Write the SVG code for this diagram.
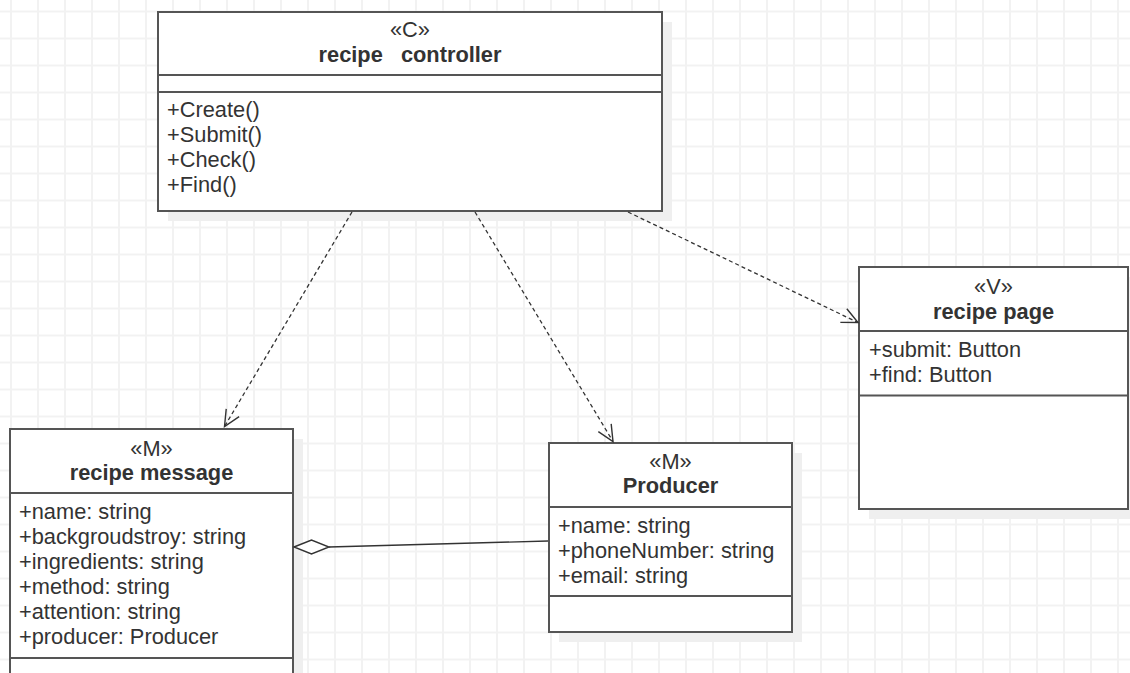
<svg xmlns="http://www.w3.org/2000/svg" width="1130" height="673" viewBox="0 0 1130 673">
<defs>
<pattern id="grid" x="10" y="10.5" width="27" height="27" patternUnits="userSpaceOnUse">
<path d="M1,0 V27 M0,1 H27" stroke="#f2f2f2" stroke-width="2" fill="none"/>
</pattern>
<marker id="open" markerUnits="userSpaceOnUse" markerWidth="20" markerHeight="20" viewBox="-18 -10 20 20" refX="0" refY="0" orient="auto">
<path d="M-16,-7.5 L0,0 L-16,7.5" fill="none" stroke="#333" stroke-width="1.4"/>
</marker>
</defs>
<style>
.box{fill:#fff;stroke:#555;stroke-width:2}
.shadow{fill:#efefef}
.div{stroke:#555;stroke-width:2}
text{font-family:"Liberation Sans",Arial,sans-serif;font-size:21.8px;fill:#333}
.c{text-anchor:middle}
.b{font-weight:bold}
.dep{fill:none;stroke:#333;stroke-width:1.3;stroke-dasharray:4 3}
</style>
<rect width="1130" height="673" fill="#fff"/>
<rect width="1130" height="673" fill="url(#grid)"/>

<g id="shadows">
<rect class="shadow" x="168" y="22" width="504" height="199"/>
<rect class="shadow" x="869" y="277" width="269" height="242"/>
<rect class="shadow" x="20" y="439" width="283" height="260"/>
<rect class="shadow" x="559" y="453" width="243" height="189"/>
</g>

<g id="recipe-controller">
<rect class="box" x="158" y="12" width="504" height="199"/>
<line class="div" x1="158" y1="75" x2="662" y2="75"/>
<line class="div" x1="158" y1="92" x2="662" y2="92"/>
<text class="c" x="410" y="37">«C»</text>
<text class="c b" x="410" y="62" xml:space="preserve">recipe   controller</text>
<text x="167" y="117">+Create()</text>
<text x="167" y="142">+Submit()</text>
<text x="167" y="167">+Check()</text>
<text x="167" y="192">+Find()</text>
</g>

<g id="recipe-page">
<rect class="box" x="859" y="267" width="269" height="242"/>
<line class="div" x1="859" y1="331" x2="1128" y2="331"/>
<line class="div" x1="859" y1="395.5" x2="1128" y2="395.5"/>
<text class="c" x="993.5" y="294">«V»</text>
<text class="c b" x="993.5" y="319">recipe page</text>
<text x="869" y="357">+submit: Button</text>
<text x="869" y="382">+find: Button</text>
</g>

<g id="recipe-message">
<rect class="box" x="10" y="429" width="283" height="260"/>
<line class="div" x1="10" y1="493" x2="293" y2="493"/>
<line class="div" x1="10" y1="658" x2="293" y2="658"/>
<text class="c" x="151.5" y="456">«M»</text>
<text class="c b" x="151.5" y="480">recipe message</text>
<text x="19" y="519">+name: string</text>
<text x="19" y="544">+backgroudstroy: string</text>
<text x="19" y="569">+ingredients: string</text>
<text x="19" y="594">+method: string</text>
<text x="19" y="619">+attention: string</text>
<text x="19" y="644">+producer: Producer</text>
</g>

<g id="producer">
<rect class="box" x="549" y="443" width="243" height="189"/>
<line class="div" x1="549" y1="507" x2="792" y2="507"/>
<line class="div" x1="549" y1="596" x2="792" y2="596"/>
<text class="c" x="670.5" y="469">«M»</text>
<text class="c b" x="670.5" y="493">Producer</text>
<text x="558" y="533">+name: string</text>
<text x="558" y="558">+phoneNumber: string</text>
<text x="558" y="583">+email: string</text>
</g>

<g id="connectors">
<path class="dep" d="M352,212 L224.5,426.5" marker-end="url(#open)"/>
<path class="dep" d="M475,212 L613,441.5" marker-end="url(#open)"/>
<path class="dep" d="M628,212 L858,322.5" marker-end="url(#open)"/>
<path d="M329,547 L548,541" fill="none" stroke="#333" stroke-width="1.4"/>
<path d="M294,547 L311.5,540 L329,547 L311.5,554 Z" fill="#fff" stroke="#333" stroke-width="1.4"/>
</g>
</svg>
